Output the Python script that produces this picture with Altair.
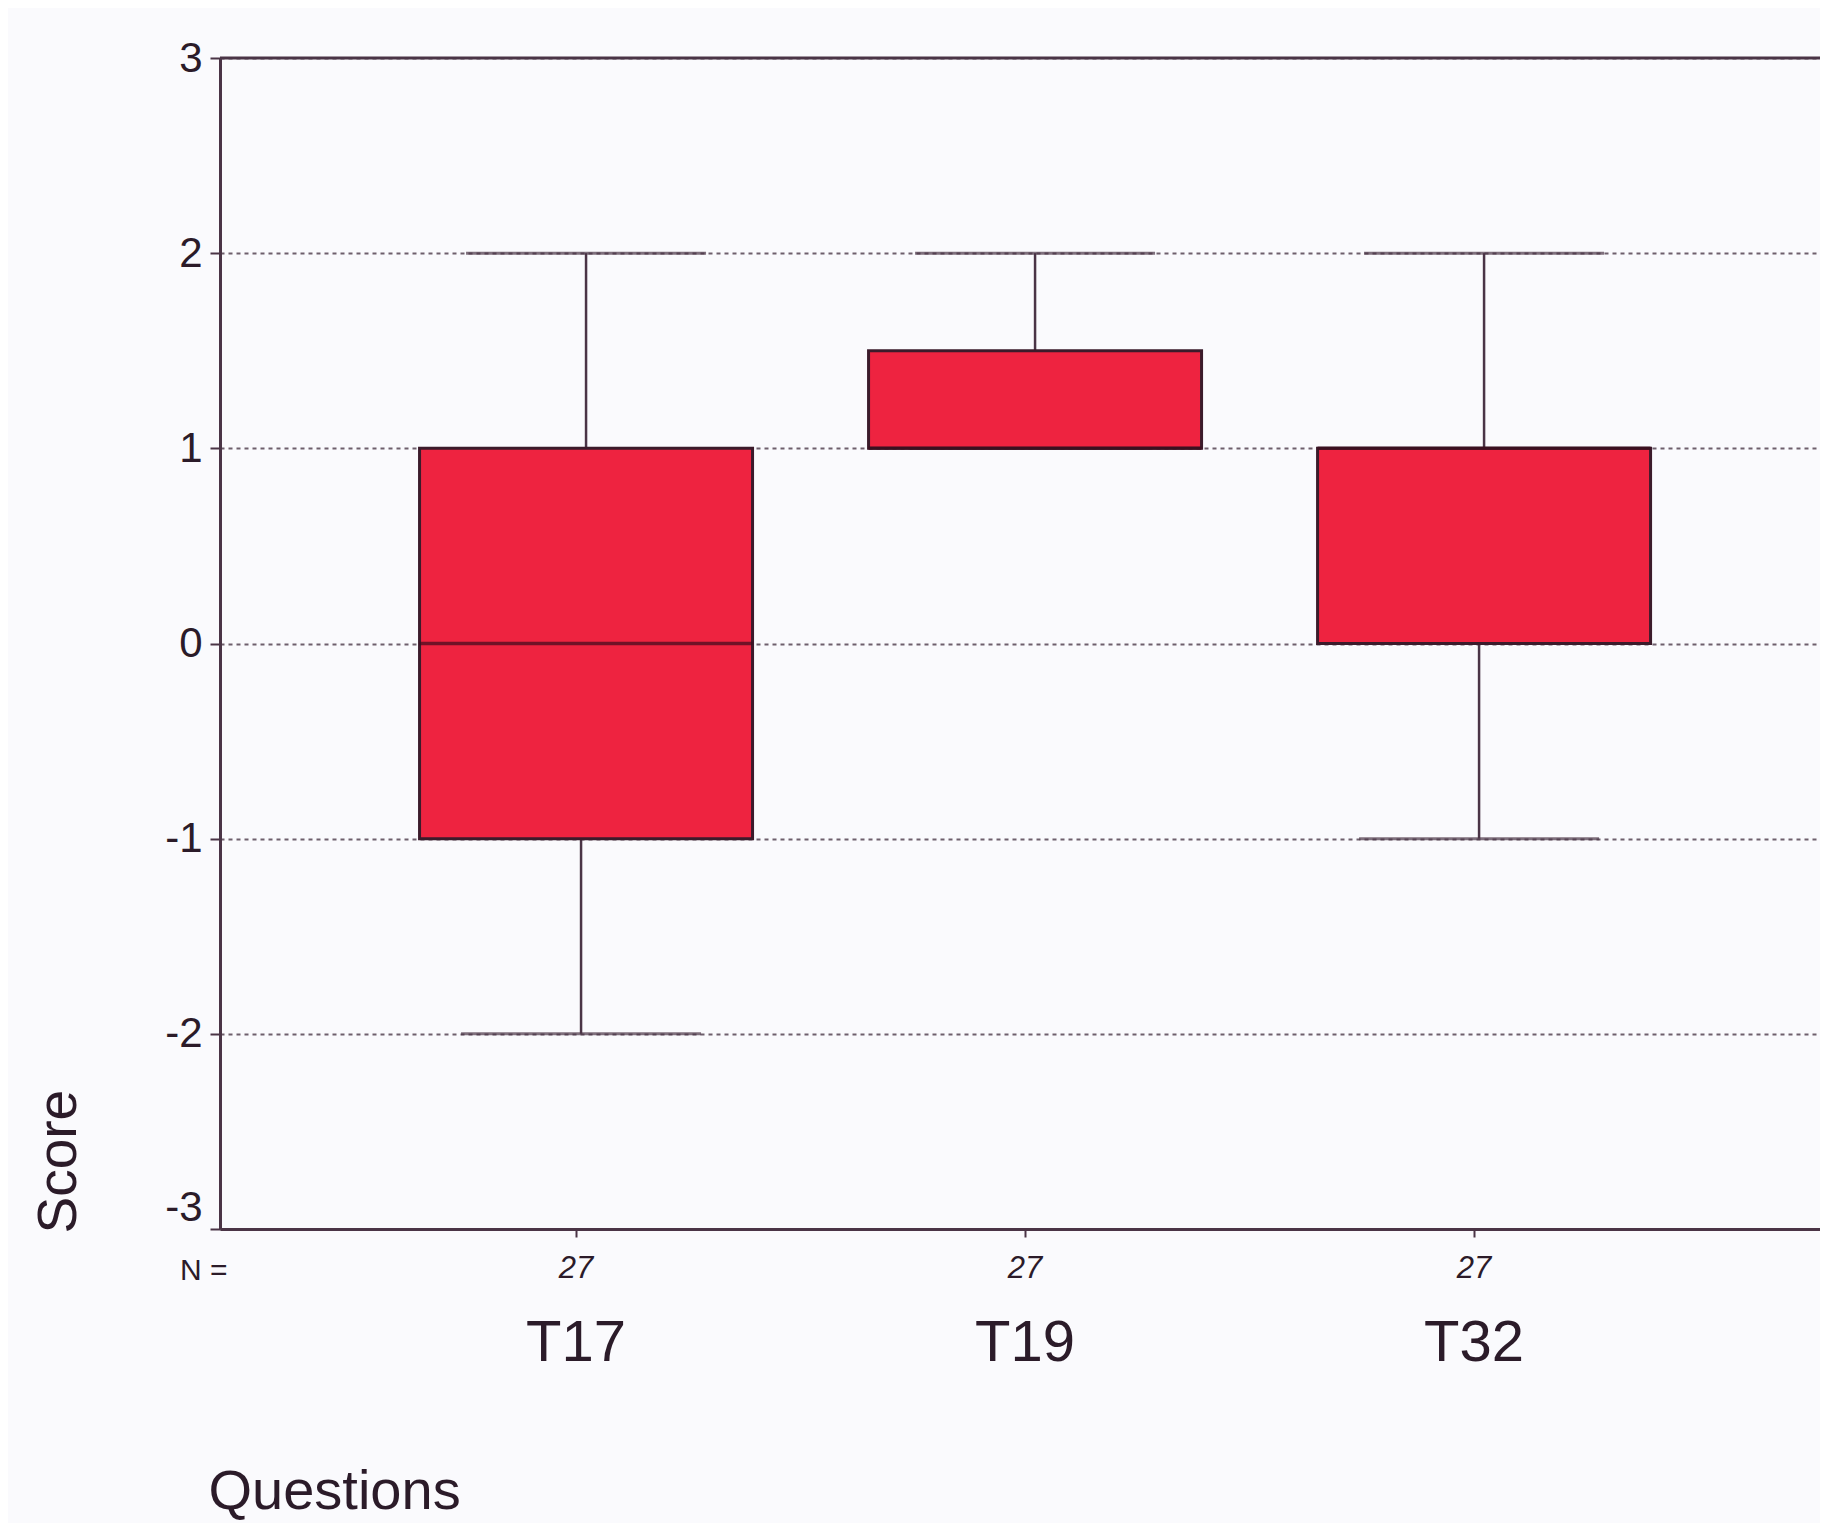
import altair as alt
import pandas as pd

questions = ["T17", "T19", "T32"]
mins = [-2, 1, -1]
q1s = [-1, 1, 0]
medians = [0, 1, 1]
q3s = [1, 1.5, 1]
maxs = [2, 2, 2]
ns = ["27", "27", "27"]
score_ticks = [-3, -2, -1, 0, 1, 2, 3]

df = pd.DataFrame({
    "question": questions, "lo": mins, "q1": q1s, "med": medians,
    "q3": q3s, "hi": maxs, "n": ns,
})

FONT = "Liberation Sans"
INK = "#2b1b29"
LINE = "#4a3446"
FILL = "#EE2340"
W, H = 1600, 1171

xscale = alt.Scale(domain=questions, paddingInner=0, paddingOuter=0.2817, align=0.52)
xaxis = alt.Axis(
    title="Questions", titleFont=FONT, titleFontSize=56, titleFontWeight="normal",
    titleColor=INK, titleAnchor="start", titleAlign="left", titleBaseline="alphabetic",
    titleX=-12, titleY=279, labelFont=FONT, labelFontSize=58, labelColor=INK,
    labelBaseline="alphabetic", labelPadding=123, tickSize=8, tickColor=LINE,
    tickWidth=2, domainColor=LINE, domainWidth=3, grid=False, labelAngle=0,
)
yscale = alt.Scale(domain=[-3, 3], nice=False, zero=False)
yaxis = alt.Axis(
    title="Score", titleFont=FONT, titleFontSize=55, titleFontWeight="normal",
    titleColor=INK, titleAnchor="start", titleAlign="left", titleBaseline="alphabetic",
    titleAngle=270, titleX=-145, titleY=1175,
    values=score_ticks, labelExpr="'' + datum.value",
    labelFont=FONT, labelFontSize=42, labelColor=INK,
    labelPadding=8, tickSize=10, tickColor=LINE, tickWidth=2,
    labelBaseline={"expr": "datum.value == -3 ? 'bottom' : 'middle'"},
    domainColor=LINE, domainWidth=3, grid=True, gridColor="#5e4e5c",
    gridDash=[4, 4], gridWidth=2, gridOpacity=0.9,
)


def xenc():
    return alt.X("question:N", sort=questions, scale=xscale, axis=xaxis)


def yenc(field):
    return alt.Y(f"{field}:Q", scale=yscale, axis=yaxis, title="Score")


base = alt.Chart(df)

upper = base.mark_rule(color=LINE, strokeWidth=2.5, xOffset=10).encode(
    x=xenc(), y=yenc("q3"), y2="hi")
lower = base.mark_rule(color=LINE, strokeWidth=2.5, xOffset=5).encode(
    x=xenc(), y=yenc("lo"), y2="q1")
cap_hi = base.mark_tick(color=LINE, thickness=3, size=240, xOffset=10).encode(
    x=xenc(), y=yenc("hi"))
cap_lo = base.mark_tick(color=LINE, thickness=3, size=240, xOffset=5).encode(
    x=xenc(), y=yenc("lo"))
box = base.mark_bar(color=FILL, stroke="#3b1b2b", strokeWidth=3, width=333,
                    xOffset=10).encode(x=xenc(), y=yenc("q1"), y2="q3")
median = base.mark_tick(color="#3a0c1c", thickness=3.5, size=333, xOffset=10).encode(
    x=xenc(), y=yenc("med"))
ntext = base.mark_text(font=FONT, fontSize=31, fontStyle="italic", color=INK,
                       baseline="middle", dy=40).encode(
    x=xenc(), y=alt.datum(-3), text="n:N")
nlabel = alt.Chart(pd.DataFrame({"t": ["N ="]})).mark_text(
    font=FONT, fontSize=30, color=INK, align="left", baseline="middle", dy=42
).encode(x=alt.value(-40), y=alt.datum(-3), text="t:N")
top = alt.Chart(pd.DataFrame({"t": [3]})).mark_rule(color=LINE, strokeWidth=3).encode(
    y=alt.datum(3))

chart = alt.layer(upper, lower, cap_hi, cap_lo, box, median, ntext, nlabel, top).properties(
    width=W, height=H,
    autosize=alt.AutoSizeParams(type="none"),
    padding={"left": 212, "top": 50, "right": 0, "bottom": 294},
    background="#FAFAFD",
).configure_view(stroke=None)

chart.save("out.html", embed_options={"renderer": "svg", "actions": False})
